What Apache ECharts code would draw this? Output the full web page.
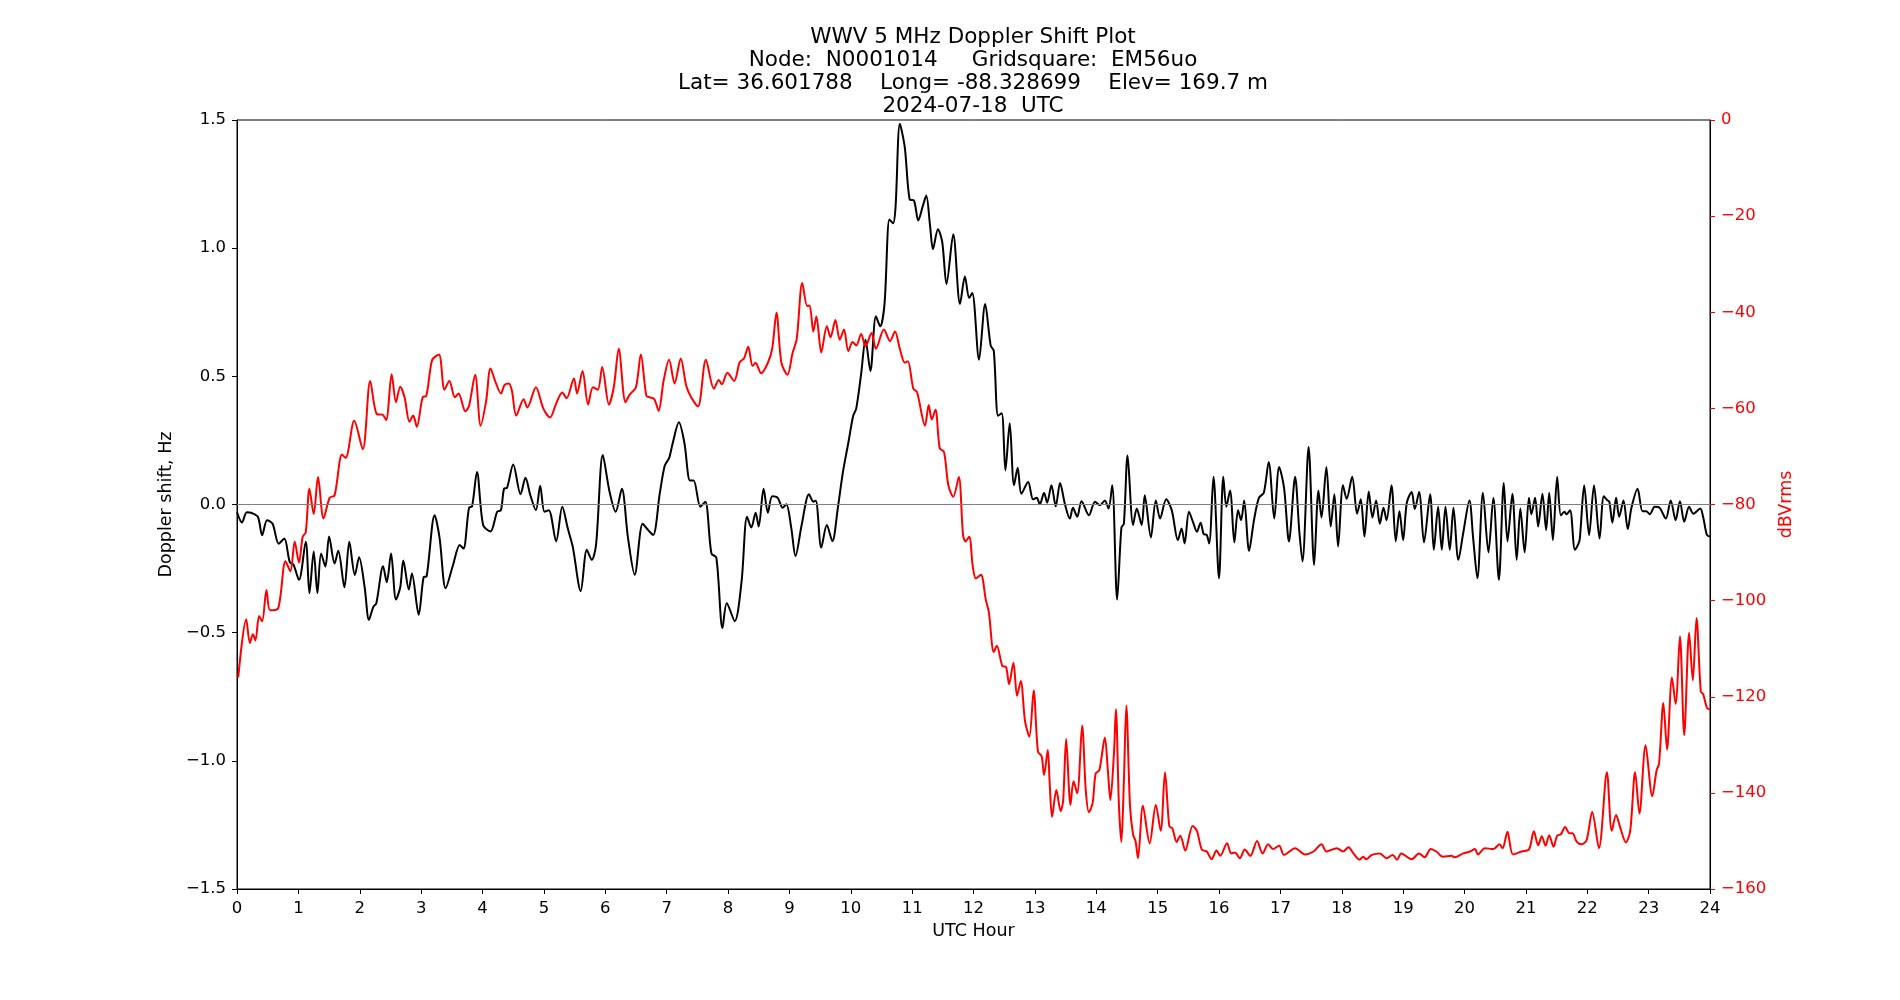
<!DOCTYPE html>
<html>
<head>
<meta charset="utf-8">
<title>WWV 5 MHz Doppler Shift Plot</title>
<script src="https://cdn.jsdelivr.net/npm/echarts@6/dist/echarts.min.js"></script>
<style>
  html, body { margin: 0; padding: 0; background: #fff; }
  #chart { width: 1900px; height: 1000px; }
</style>
</head>
<body>
<div id="chart"></div>
<script>
// doppler shift (Hz), black trace, left axis
var dopplerHours = [0.00,0.08,0.16,0.23,0.34,0.41,0.49,0.58,0.68,0.77,0.86,0.92,1.01,1.12,1.18,1.25,1.31,1.37,1.44,1.50,1.59,1.65,1.75,1.83,1.92,1.99,2.08,2.15,2.22,2.27,2.38,2.44,2.51,2.59,2.66,2.71,2.80,2.85,2.96,3.04,3.09,3.22,3.30,3.40,3.52,3.63,3.69,3.78,3.83,3.91,4.01,4.13,4.24,4.30,4.35,4.40,4.50,4.62,4.70,4.78,4.87,4.94,5.01,5.08,5.20,5.30,5.39,5.47,5.60,5.70,5.78,5.85,5.96,6.07,6.17,6.27,6.37,6.48,6.61,6.70,6.78,6.89,6.97,7.04,7.10,7.20,7.29,7.38,7.44,7.55,7.63,7.73,7.81,7.91,7.98,8.11,8.22,8.31,8.38,8.45,8.50,8.58,8.65,8.72,8.81,8.89,8.95,9.03,9.10,9.20,9.32,9.39,9.43,9.52,9.61,9.70,9.79,9.87,9.96,10.04,10.09,10.17,10.24,10.32,10.41,10.48,10.55,10.63,10.69,10.73,10.80,10.88,10.96,11.03,11.10,11.17,11.23,11.29,11.34,11.42,11.49,11.56,11.67,11.78,11.86,11.93,11.98,12.09,12.19,12.28,12.33,12.40,12.46,12.52,12.59,12.66,12.72,12.78,12.89,12.97,13.03,13.08,13.15,13.20,13.27,13.34,13.41,13.49,13.57,13.62,13.69,13.76,13.88,13.98,14.06,14.14,14.20,14.26,14.34,14.41,14.45,14.51,14.60,14.66,14.74,14.79,14.89,14.97,15.04,15.14,15.23,15.33,15.39,15.44,15.51,15.58,15.64,15.70,15.75,15.80,15.84,15.91,16.00,16.07,16.12,16.18,16.25,16.31,16.36,16.41,16.49,16.57,16.65,16.73,16.81,16.90,16.98,17.06,17.14,17.24,17.31,17.36,17.46,17.55,17.62,17.67,17.75,17.82,17.88,17.94,18.02,18.08,18.17,18.25,18.31,18.37,18.44,18.50,18.56,18.62,18.68,18.73,18.81,18.88,18.94,19.00,19.06,19.14,19.19,19.26,19.34,19.44,19.50,19.57,19.63,19.69,19.76,19.82,19.90,19.98,20.08,20.14,20.21,20.30,20.39,20.47,20.56,20.64,20.70,20.78,20.85,20.91,20.98,21.05,21.09,21.15,21.20,21.27,21.33,21.38,21.44,21.51,21.57,21.63,21.66,21.72,21.80,21.87,21.89,21.95,22.03,22.11,22.20,22.27,22.33,22.36,22.41,22.47,22.52,22.59,22.66,22.72,22.82,22.90,22.96,23.02,23.10,23.18,23.28,23.36,23.44,23.51,23.58,23.66,23.73,23.84,23.89,23.95,24.00];
var dopplerHz = [-0.03,-0.07,-0.03,-0.032,-0.048,-0.12,-0.061,-0.075,-0.153,-0.133,-0.225,-0.235,-0.294,-0.145,-0.346,-0.183,-0.346,-0.191,-0.242,-0.125,-0.23,-0.18,-0.323,-0.145,-0.275,-0.206,-0.323,-0.45,-0.40,-0.385,-0.241,-0.303,-0.191,-0.371,-0.323,-0.218,-0.332,-0.269,-0.43,-0.284,-0.28,-0.042,-0.129,-0.327,-0.236,-0.158,-0.172,-0.013,-0.007,0.127,-0.08,-0.105,-0.028,-0.022,0.061,0.065,0.156,0.04,0.104,0.036,-0.022,0.073,-0.028,-0.022,-0.144,-0.009,-0.094,-0.164,-0.338,-0.177,-0.216,-0.158,0.193,0.05,-0.028,0.061,-0.129,-0.274,-0.075,-0.10,-0.119,0.046,0.152,0.181,0.24,0.321,0.24,0.094,0.094,-0.009,0.011,-0.191,-0.207,-0.482,-0.385,-0.455,-0.303,-0.048,-0.09,-0.032,-0.086,0.061,-0.032,0.032,0.026,-0.013,0.001,-0.09,-0.201,-0.08,0.04,0.011,0.015,-0.168,-0.08,-0.143,-0.013,0.123,0.24,0.346,0.375,0.511,0.643,0.521,0.734,0.695,0.782,1.112,1.097,1.161,1.485,1.394,1.19,1.186,1.108,1.161,1.205,1.093,0.996,1.074,1.025,0.86,1.054,0.782,0.889,0.806,0.825,0.565,0.782,0.62,0.60,0.346,0.356,0.133,0.317,0.075,0.143,0.042,0.088,0.02,0.026,0.001,0.046,0.007,0.075,-0.007,0.084,0.001,-0.055,-0.013,-0.048,0.013,-0.042,0.011,-0.003,0.016,-0.016,0.075,-0.371,-0.09,-0.075,0.191,-0.08,-0.016,-0.08,0.036,-0.129,0.016,-0.055,0.02,-0.022,-0.139,-0.094,-0.152,-0.028,-0.071,-0.106,-0.071,-0.115,-0.119,-0.152,0.108,-0.288,0.108,-0.009,0.055,-0.148,-0.022,-0.061,0.016,-0.181,-0.061,0.026,0.046,0.166,-0.055,0.146,0.065,-0.144,0.108,-0.11,-0.222,0.224,-0.236,0.055,-0.051,0.146,-0.086,0.04,-0.164,0.075,0.022,0.108,-0.036,0.02,-0.125,0.051,-0.051,0.016,-0.075,-0.013,-0.061,0.075,-0.144,-0.026,-0.139,0.007,0.049,-0.018,0.049,-0.148,0.04,-0.177,-0.009,-0.177,-0.009,-0.177,-0.013,-0.216,-0.11,0.016,-0.129,-0.288,0.046,-0.187,0.026,-0.294,0.084,-0.144,0.042,-0.216,-0.016,-0.187,0.026,-0.038,0.026,-0.086,0.042,-0.10,0.046,-0.139,0.108,-0.042,-0.028,-0.038,-0.022,-0.177,-0.144,-0.10,0.075,-0.119,0.075,-0.133,0.032,0.016,0.011,-0.071,0.026,-0.048,0.016,-0.096,-0.013,0.061,-0.026,-0.026,-0.038,-0.009,-0.013,-0.055,0.016,-0.061,0.013,-0.067,-0.009,-0.036,-0.016,-0.051,-0.119,-0.125];

// received level (dBVrms), red trace, right axis
var powerHours = [0.02,0.15,0.21,0.26,0.30,0.36,0.41,0.48,0.54,0.67,0.79,0.87,0.94,1.01,1.07,1.12,1.18,1.25,1.32,1.41,1.51,1.59,1.71,1.77,1.91,2.05,2.17,2.28,2.37,2.43,2.52,2.59,2.66,2.73,2.81,2.87,2.93,3.03,3.08,3.18,3.29,3.38,3.46,3.55,3.61,3.72,3.78,3.88,3.97,4.06,4.13,4.22,4.30,4.36,4.43,4.48,4.55,4.67,4.73,4.87,4.99,5.10,5.20,5.30,5.37,5.49,5.54,5.63,5.72,5.80,5.88,5.95,6.06,6.14,6.22,6.33,6.40,6.50,6.58,6.67,6.73,6.80,6.87,6.95,7.04,7.13,7.23,7.32,7.40,7.51,7.64,7.77,7.85,7.90,7.99,8.10,8.19,8.26,8.33,8.40,8.45,8.54,8.65,8.72,8.79,8.87,8.97,9.05,9.12,9.21,9.29,9.33,9.39,9.44,9.52,9.61,9.67,9.75,9.82,9.89,9.96,10.03,10.09,10.17,10.24,10.34,10.41,10.54,10.64,10.72,10.80,10.88,10.93,11.02,11.08,11.21,11.27,11.32,11.38,11.45,11.52,11.59,11.67,11.76,11.83,11.87,11.93,11.99,12.04,12.12,12.20,12.25,12.33,12.38,12.47,12.53,12.58,12.65,12.71,12.77,12.84,12.91,12.98,13.05,13.11,13.15,13.21,13.24,13.28,13.35,13.42,13.46,13.51,13.58,13.63,13.69,13.77,13.83,13.88,13.94,13.99,14.05,14.14,14.19,14.23,14.29,14.32,14.37,14.41,14.45,14.49,14.55,14.60,14.64,14.68,14.76,14.87,14.97,15.05,15.12,15.19,15.24,15.31,15.37,15.45,15.57,15.64,15.72,15.80,15.88,15.96,16.02,16.13,16.20,16.26,16.34,16.42,16.51,16.62,16.71,16.80,16.88,16.98,17.06,17.24,17.40,17.54,17.67,17.75,17.92,18.02,18.11,18.19,18.29,18.35,18.40,18.49,18.62,18.73,18.83,18.90,18.97,19.14,19.26,19.35,19.45,19.54,19.65,19.79,19.84,19.98,20.09,20.17,20.22,20.33,20.47,20.57,20.62,20.70,20.79,20.93,21.05,21.13,21.20,21.26,21.32,21.38,21.45,21.51,21.57,21.64,21.71,21.76,21.83,21.91,21.99,22.08,22.19,22.32,22.40,22.47,22.53,22.63,22.70,22.78,22.85,22.95,23.06,23.13,23.17,23.24,23.30,23.38,23.44,23.51,23.58,23.66,23.72,23.78,23.85,23.89,23.95,24.00];
var powerDb = [-116,-103.9,-108.8,-107.0,-108.3,-103.2,-104.3,-97.8,-102.0,-101.6,-91.8,-93.9,-87.7,-92.1,-86.7,-85.8,-76.7,-82.0,-74.3,-82.9,-78.6,-78.1,-69.6,-70.3,-62.6,-68.5,-54.3,-61.2,-61.3,-62.4,-52.9,-58.7,-55.5,-57.7,-62.8,-61.5,-63.8,-57.6,-57.5,-49.9,-48.8,-56.1,-54.3,-57.7,-56.9,-60.6,-59.5,-53.0,-63.6,-58.4,-51.7,-54.8,-56.9,-55.1,-54.8,-56.4,-61.5,-58.1,-59.8,-55.6,-60.0,-61.9,-59.0,-56.7,-57.9,-53.8,-56.9,-52.2,-59.2,-55.6,-56.1,-51.4,-59.2,-55.5,-47.6,-58.7,-57.1,-55.6,-48.8,-57.4,-57.7,-58.1,-60.5,-54.3,-49.9,-54.8,-49.6,-55.3,-57.7,-59.6,-49.9,-55.9,-54.1,-55.0,-52.6,-54.3,-50.4,-49.6,-47.2,-51.2,-50.5,-52.7,-50.5,-47.6,-40.1,-50.5,-53.0,-48.6,-45.5,-33.9,-38.7,-38.6,-44.0,-40.9,-48.4,-42.9,-45.2,-41.6,-45.7,-43.6,-48.1,-46.2,-46.9,-44.5,-47.1,-44.3,-47.6,-43.6,-46.0,-44.0,-47.6,-50.5,-50.2,-55.9,-56.6,-63.6,-59.3,-62.3,-60.3,-68.3,-69.1,-76.0,-78.4,-74.3,-86.4,-87.7,-86.7,-93.1,-95.4,-94.6,-99.8,-102.4,-110.7,-109.4,-113.6,-113.8,-117.4,-112.9,-119.8,-116.7,-125.1,-128.3,-118.7,-131.4,-132.4,-136.3,-131.1,-137.6,-145.0,-139.4,-143.8,-141.7,-128.8,-142.5,-137.6,-140.1,-126.0,-139.6,-144.0,-142.2,-136.0,-135.3,-128.5,-135.5,-141.5,-131.4,-122.6,-142.7,-150.2,-137.6,-121.8,-142.7,-148.7,-150.0,-153.6,-142.7,-150.5,-142.5,-147.9,-135.7,-146.9,-147.4,-150.2,-148.9,-152.0,-146.9,-147.9,-151.8,-152.2,-153.8,-152.0,-153.1,-150.5,-152.6,-152.4,-153.6,-151.8,-153.1,-150.0,-152.6,-150.7,-151.7,-151.0,-152.9,-151.5,-152.8,-152.2,-150.7,-152.2,-151.5,-152.2,-151.3,-152.6,-153.9,-153.3,-153.8,-152.9,-152.6,-153.6,-152.9,-153.9,-152.6,-153.8,-152.6,-153.4,-151.7,-152.2,-153.3,-153.1,-153.4,-152.6,-152.2,-151.7,-152.8,-151.5,-151.7,-150.7,-151.5,-148.1,-152.8,-152.2,-151.8,-148.0,-150.9,-149.0,-151.0,-148.8,-151.2,-148.9,-148.6,-147.1,-148.4,-148.4,-150.2,-150.7,-149.8,-144.0,-151.5,-135.7,-147.9,-144.6,-146.9,-150.3,-147.9,-135.7,-144.3,-130.1,-140.7,-135.3,-133.9,-121.3,-131.0,-116.0,-121.5,-107.4,-128.0,-106.7,-116.6,-103.6,-118.9,-119.5,-122.3,-122.6];

var titleLines = [
	'WWV 5 MHz Doppler Shift Plot',
	'Node:  N0001014     Gridsquare:  EM56uo',
	'Lat= 36.601788    Long= -88.328699    Elev= 169.7 m',
	'2024-07-18  UTC'
];

function pairs(xs, ys) {
	return xs.map(function (x, i) { return [x, ys[i]]; });
}

// matplotlib style minus sign
function minus(s) {
	return String(s).replace('-', '\u2212');
}

var font = 'DejaVu Sans';
var chart = echarts.init(document.getElementById('chart'));

var option = {
	backgroundColor: '#fff',
	animation: false,
	textStyle: { fontFamily: font },
	title: {
		text: titleLines.join('\n'),
		left: 973,
		top: 26,
		textAlign: 'center',
		padding: 0,
		textStyle: {
			color: '#000',
			fontFamily: font,
			fontSize: 21.5,
			fontWeight: 'normal',
			lineHeight: 23
		}
	},
	grid: {
		left: 237,
		right: 190,
		top: 120,
		bottom: 111,
		show: true,
		borderColor: '#000',
		borderWidth: 1,
		outerBoundsMode: 'none'
	},
	xAxis: {
		type: 'value',
		min: 0,
		max: 24,
		interval: 1,
		name: 'UTC Hour',
		nameLocation: 'middle',
		nameGap: 33,
		nameTextStyle: { color: '#000', fontSize: 17.5, fontFamily: font },
		axisLine: { onZero: false, lineStyle: { color: '#000', width: 1 } },
		axisTick: { length: 5, lineStyle: { color: '#000' } },
		axisLabel: { color: '#000', fontSize: 16.5, margin: 11, fontFamily: font },
		splitLine: { show: false }
	},
	yAxis: [{
		type: 'value',
		position: 'left',
		min: -1.5,
		max: 1.5,
		interval: 0.5,
		name: 'Doppler shift, Hz',
		nameLocation: 'middle',
		nameGap: 60,
		nameRotate: 90,
		nameTextStyle: { color: '#000', fontSize: 17.5, fontFamily: font },
		axisLine: { show: true, onZero: false, lineStyle: { color: '#000' } },
		axisTick: { show: true, length: 5, lineStyle: { color: '#000' } },
		axisLabel: {
			color: '#000', fontSize: 16.5, margin: 11, fontFamily: font,
			formatter: function (v) { return minus(v.toFixed(1)); }
		},
		splitLine: { show: false }
	}, {
		type: 'value',
		position: 'right',
		min: -160,
		max: 0,
		interval: 20,
		name: 'dBVrms',
		nameLocation: 'middle',
		nameGap: 62,
		nameRotate: 90,
		nameTextStyle: { color: '#ff0000', fontSize: 17.5, fontFamily: font },
		axisLine: { show: true, onZero: false, lineStyle: { color: '#000' } },
		axisTick: { show: true, length: 5, lineStyle: { color: '#ff0000' } },
		axisLabel: {
			color: '#ff0000', fontSize: 16.5, margin: 11, fontFamily: font,
			formatter: function (v) { return minus(v); }
		},
		splitLine: { show: false }
	}],
	series: [{
		name: 'Doppler shift',
		type: 'line',
		yAxisIndex: 0,
		data: pairs(dopplerHours, dopplerHz),
		showSymbol: false,
		smooth: 0.3,
		lineStyle: { color: '#000', width: 2 },
		itemStyle: { color: '#000' },
		z: 3,
		markLine: {
			silent: true,
			symbol: ['none', 'none'],
			label: { show: false },
			lineStyle: { color: '#808080', width: 1, type: 'solid' },
			data: [{ yAxis: 0 }]
		}
	}, {
		name: 'Power',
		type: 'line',
		yAxisIndex: 1,
		data: pairs(powerHours, powerDb),
		showSymbol: false,
		smooth: 0.3,
		lineStyle: { color: '#ff0000', width: 2 },
		itemStyle: { color: '#ff0000' },
		z: 4
	}]
};

chart.setOption(option);

window.onresize = function () {
	chart.resize();
};
</script>
</body>
</html>
